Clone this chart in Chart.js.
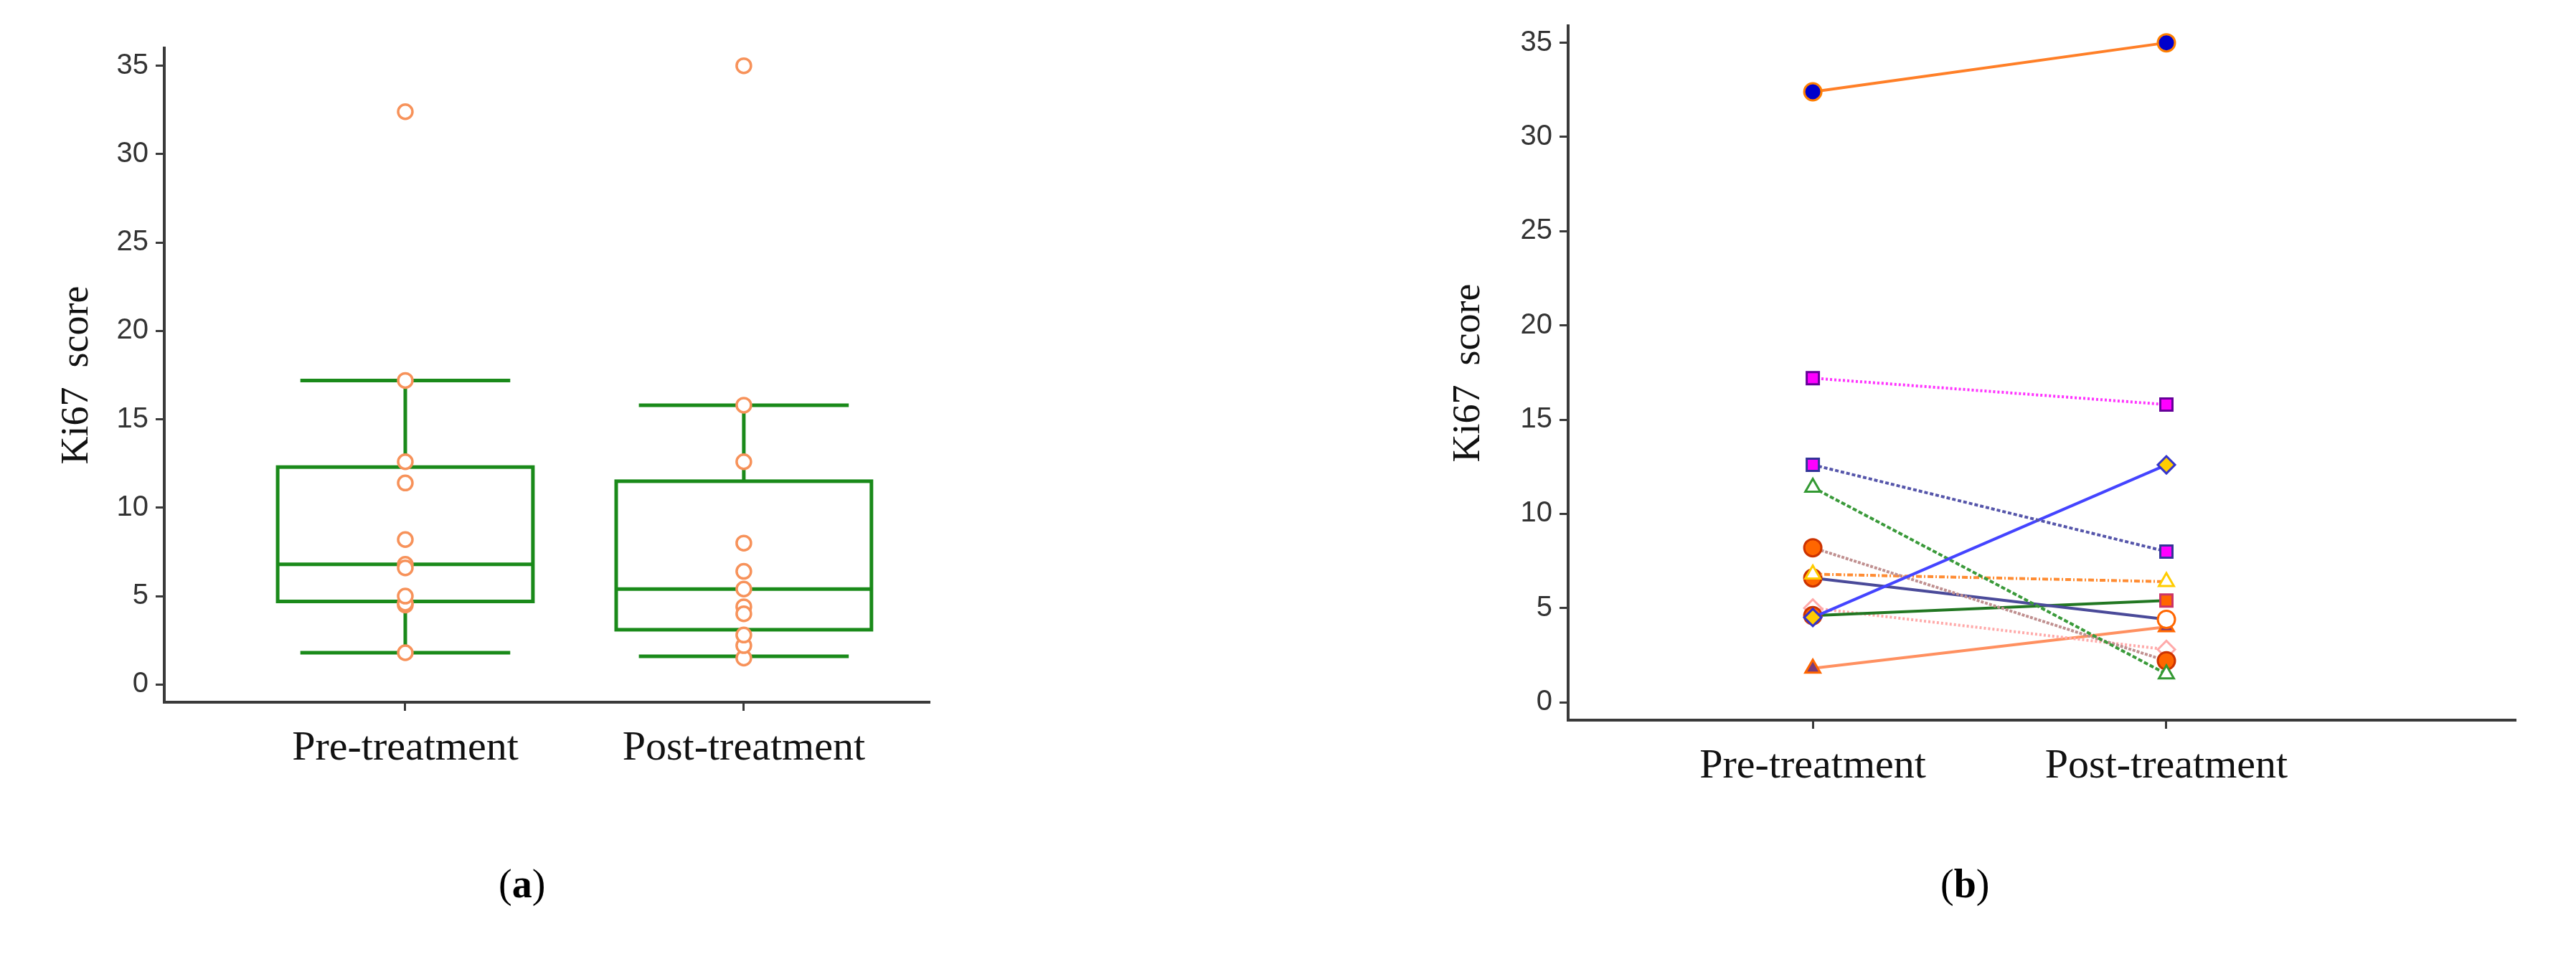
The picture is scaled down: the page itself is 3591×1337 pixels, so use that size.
<!DOCTYPE html>
<html>
<head>
<meta charset="utf-8">
<script src="https://cdn.jsdelivr.net/npm/chart.js@4.4.1/dist/chart.umd.min.js"></script>
<style>
  body { margin: 0; background: #fff; width: 3591px; height: 1337px; position: relative; overflow: hidden; }
  .panel { position: absolute; top: 0; height: 1337px; }
  .cap { position: absolute; top: 1200px; font: 56px "Liberation Serif", serif; }
</style>
</head>
<body>
<div class="panel" style="left:0;width:1600px"><canvas id="box-chart"></canvas></div>
<div class="panel" style="left:1800px;width:1791px"><canvas id="pair-chart"></canvas></div>
<div class="cap" style="left:695px">(<b>a</b>)</div>
<div class="cap" style="left:2705px">(<b>b</b>)</div>
<script>
var categories = ["Pre-treatment", "Post-treatment"];
var yTicks = [0, 5, 10, 15, 20, 25, 30, 35];

// per-patient Ki67 scores, same order in both arrays
var preScores  = [32.4, 17.2, 12.6, 4.5, 11.4, 8.2, 6.8, 6.6, 4.6, 5.0, 1.8];
var postScores = [35.0, 15.8, 8.0, 12.6, 1.5, 2.2, 6.4, 4.4, 5.4, 2.8, 4.0];

// box summary [whiskerLow, q1, median, q3, whiskerHigh]
var preBox  = [1.8, 4.7, 6.8, 12.3, 17.2];
var postBox = [1.6, 3.1, 5.4, 11.5, 15.8];

// line / marker styles for panel b
var lineColors = ["#ff7f27", "#ff33ff", "#5555aa", "#4444ff", "#3a9a3a", "#c09090", "#ff8c33", "#4a4a99", "#227722", "#ffaaaa", "#ff9060"];
var lineDash = [[], [3, 3], [5, 3], [], [6, 3], [4, 2], [8, 3, 2, 3], [], [], [3, 3], []];
var preMarks  = [["circle", "#0000cc", "#ff7f00"], ["rect", "#ff00ff", "#660099"], ["rect", "#ff00ff", "#333399"], ["rectRot", "#ffcc00", "#3333cc"], ["triangle", "#ffffff", "#339933"], ["circle", "#ff6600", "#cc3300"], ["triangle", "#ffffff", "#ffcc00"], ["circle", "#ff6600", "#cc3300"], ["circle", "#ff6600", "#cc3300"], ["rectRot", "#ffffff", "#ffaaaa"], ["triangle", "#7a3a7a", "#ff6600"]];
var postMarks = [["circle", "#0000cc", "#ff7f00"], ["rect", "#ff00ff", "#660099"], ["rect", "#ff00ff", "#333399"], ["rectRot", "#ffcc00", "#3333cc"], ["triangle", "#ffffff", "#339933"], ["circle", "#ff6600", "#cc3300"], ["triangle", "#ffffff", "#ffcc00"], ["circle", "#ffffff", "#ff6600"], ["rect", "#ff6600", "#cc3366"], ["rectRot", "#ffffff", "#ffaaaa"], ["triangle", "#7a3a7a", "#ff6600"]];

var axisColor = "#3a3a3a";
var tickFont = { family: "Liberation Sans", size: 40 };
var catFont = { family: "Liberation Serif", size: 58 };

function yScale(min, max, leftW) {
    return {
        min: min, max: max,
        afterBuildTicks: function (s) { s.ticks = yTicks.map(function (v) { return { value: v }; }); },
        afterFit: function (s) { s.width = leftW; },
        ticks: { color: "#333", font: tickFont, padding: 10 },
        grid: { drawOnChartArea: false, color: axisColor, lineWidth: 3, tickLength: 12 },
        border: { color: axisColor, width: 4 },
        title: { display: true, text: "Ki67  score", color: "#111", font: { family: "Liberation Serif", size: 54 }, padding: 0 }
    };
}
function xScale(min, max, bottomH) {
    return {
        type: "linear", min: min, max: max,
        afterBuildTicks: function (s) { s.ticks = [{ value: 1 }, { value: 2 }]; },
        afterFit: function (s) { s.height = bottomH; },
        ticks: { color: "#111", font: catFont, padding: 18, callback: function (v) { return categories[v - 1]; } },
        grid: { drawOnChartArea: false, color: axisColor, lineWidth: 3, tickLength: 12 },
        border: { color: axisColor, width: 4 }
    };
}

var boxPlugin = {
    id: "boxes",
    beforeDatasetsDraw: function (chart) {
        var c = chart.ctx, x = chart.scales.x, y = chart.scales.y;
        [preBox, postBox].forEach(function (b, i) {
            var cx = i + 1;
            var l = x.getPixelForValue(cx - 0.377), r = x.getPixelForValue(cx + 0.377);
            var wl = x.getPixelForValue(cx - 0.31), wr = x.getPixelForValue(cx + 0.31);
            var m = x.getPixelForValue(cx);
            c.save();
            c.strokeStyle = "#1a8a1a"; c.lineWidth = 5;
            c.strokeRect(l, y.getPixelForValue(b[3]), r - l, y.getPixelForValue(b[1]) - y.getPixelForValue(b[3]));
            c.beginPath();
            c.moveTo(l, y.getPixelForValue(b[2])); c.lineTo(r, y.getPixelForValue(b[2]));
            c.moveTo(m, y.getPixelForValue(b[3])); c.lineTo(m, y.getPixelForValue(b[4]));
            c.moveTo(m, y.getPixelForValue(b[1])); c.lineTo(m, y.getPixelForValue(b[0]));
            c.moveTo(wl, y.getPixelForValue(b[4])); c.lineTo(wr, y.getPixelForValue(b[4]));
            c.moveTo(wl, y.getPixelForValue(b[0])); c.lineTo(wr, y.getPixelForValue(b[0]));
            c.stroke();
            c.restore();
        });
    }
};

new Chart(document.getElementById("box-chart"), {
    type: "scatter",
    data: {
        datasets: [{
            data: preScores.map(function (v) { return { x: 1, y: v }; })
                .concat(postScores.map(function (v) { return { x: 2, y: v }; })),
            pointRadius: 10, pointBorderWidth: 3.5,
            borderColor: "#f7925a", backgroundColor: "#ffffff"
        }]
    },
    options: {
        responsive: true, maintainAspectRatio: false, animation: false,
        layout: { padding: { left: 75, top: 67, right: 305, bottom: 0 } },
        plugins: { legend: { display: false }, tooltip: { enabled: false } },
        scales: { x: xScale(0.288, 2.547, 358), y: yScale(-1.0, 36.0, 154) }
    },
    plugins: [boxPlugin]
});

new Chart(document.getElementById("pair-chart"), {
    type: "line",
    data: {
        datasets: preScores.map(function (v, i) {
            return {
                data: [{ x: 1, y: v }, { x: 2, y: postScores[i] }],
                borderColor: lineColors[i], borderWidth: 4, borderDash: lineDash[i],
                pointStyle: [preMarks[i][0], postMarks[i][0]],
                pointBackgroundColor: [preMarks[i][1], postMarks[i][1]],
                pointBorderColor: [preMarks[i][2], postMarks[i][2]],
                pointRadius: 12, pointBorderWidth: 3, fill: false
            };
        })
    },
    options: {
        responsive: true, maintainAspectRatio: false, animation: false,
        layout: { padding: { left: 215, top: 36, right: 85, bottom: 0 } },
        plugins: { legend: { display: false }, tooltip: { enabled: false } },
        scales: { x: xScale(0.308, 2.986, 333), y: yScale(-0.95, 35.9, 171) }
    }
});
</script>
</body>
</html>
